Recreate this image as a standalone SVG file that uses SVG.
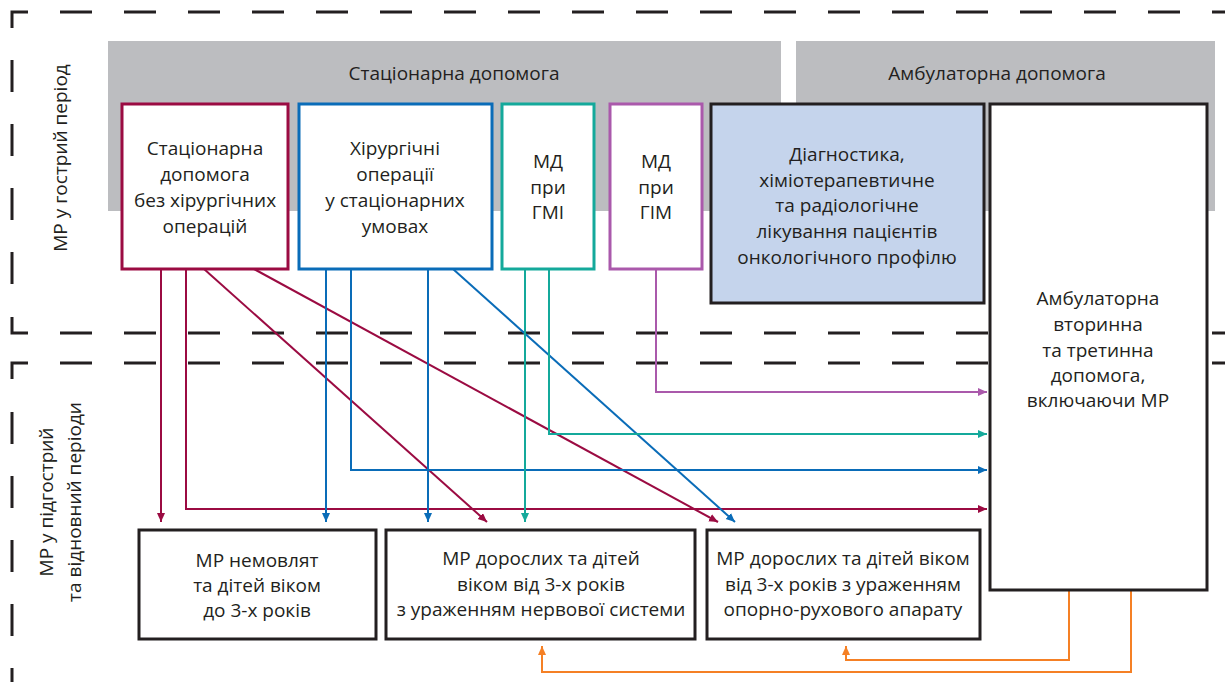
<svg xmlns="http://www.w3.org/2000/svg" width="1225" height="682" viewBox="0 0 1225 682">
<style>
text{font-family:"Open Sans","Liberation Sans",sans-serif;font-size:19px;fill:#231f20;text-anchor:middle}
.frame{fill:none;stroke:#231f20;stroke-width:3}
.dash{fill:none;stroke:#231f20;stroke-width:3;stroke-dasharray:32 32}
.band{fill:#bcbdc0}
.box{fill:#fff;stroke-width:3}
.c{fill:none;stroke-width:2}
.red{stroke:#9b0b42}.blue{stroke:#0a6cb8}.teal{stroke:#14a99b}.purple{stroke:#aa59ab}.orange{stroke:#f58025}.blk{stroke:#231f20}
</style>
<defs>
<marker id="aR" markerUnits="userSpaceOnUse" markerWidth="10" markerHeight="10" refX="9" refY="4" orient="auto"><path d="M0,0 L9,4 L0,8 z" fill="#9b0b42"/></marker>
<marker id="aB" markerUnits="userSpaceOnUse" markerWidth="10" markerHeight="10" refX="9" refY="4" orient="auto"><path d="M0,0 L9,4 L0,8 z" fill="#0a6cb8"/></marker>
<marker id="aT" markerUnits="userSpaceOnUse" markerWidth="10" markerHeight="10" refX="9" refY="4" orient="auto"><path d="M0,0 L9,4 L0,8 z" fill="#14a99b"/></marker>
<marker id="aP" markerUnits="userSpaceOnUse" markerWidth="10" markerHeight="10" refX="9" refY="4" orient="auto"><path d="M0,0 L9,4 L0,8 z" fill="#aa59ab"/></marker>
<marker id="aO" markerUnits="userSpaceOnUse" markerWidth="10" markerHeight="10" refX="9" refY="4" orient="auto"><path d="M0,0 L9,4 L0,8 z" fill="#f58025"/></marker>
</defs>
<rect width="1225" height="682" fill="#fff"/>

<g id="frames">
<path class="frame" d="M12,28 V12 H28"/>
<path class="dash" d="M60,12 H1225"/>
<path class="dash" d="M12,60 V300"/>
<path class="frame" d="M12,317 V333 H28"/>
<path class="dash" d="M60,333 H1225"/>
<path class="frame" d="M12,379 V363 H28"/>
<path class="dash" d="M60,363 H1225"/>
<path class="dash" d="M12,412 V700"/>
<text transform="translate(67,158) rotate(-90)">МР у гострий період</text>
<text transform="translate(53,502) rotate(-90)">МР у підгострий</text>
<text transform="translate(81,502) rotate(-90)">та відновний періоди</text>
</g>

<g id="bands">
<rect class="band" x="108" y="41" width="673" height="170"/>
<text x="454" y="80">Стаціонарна допомога</text>
<rect class="band" x="796" y="41" width="419" height="170"/>
<text x="997" y="80">Амбулаторна допомога</text>
</g>

<g id="connectors">
<path class="c red" d="M161,269 V522" marker-end="url(#aR)"/>
<path class="c red" d="M186,269 V509 H987" marker-end="url(#aR)"/>
<path class="c red" d="M204,269 L487,522" marker-end="url(#aR)"/>
<path class="c red" d="M254,269 L718,522" marker-end="url(#aR)"/>
<path class="c blue" d="M326,269 V522" marker-end="url(#aB)"/>
<path class="c blue" d="M351,269 V470 H987" marker-end="url(#aB)"/>
<path class="c blue" d="M428,269 V522" marker-end="url(#aB)"/>
<path class="c blue" d="M453,269 L735,522" marker-end="url(#aB)"/>
<path class="c teal" d="M525,269 V522" marker-end="url(#aT)"/>
<path class="c teal" d="M549,269 V434 H987" marker-end="url(#aT)"/>
<path class="c purple" d="M656,269 V392 H987" marker-end="url(#aP)"/>
<path class="c orange" d="M1069,590 V660 H846 V646" marker-end="url(#aO)"/>
<path class="c orange" d="M1131,590 V672 H542 V646" marker-end="url(#aO)"/>
</g>

<g id="n1">
<rect class="box red" x="122" y="104" width="166" height="165"/>
<text x="205" y="155">Стаціонарна</text>
<text x="205" y="181">допомога</text>
<text x="205" y="207">без хірургічних</text>
<text x="205" y="233">операцій</text>
</g>
<g id="n2">
<rect class="box blue" x="299" y="104" width="193" height="165"/>
<text x="395" y="155">Хірургічні</text>
<text x="395" y="181">операції</text>
<text x="395" y="207">у стаціонарних</text>
<text x="395" y="233">умовах</text>
</g>
<g id="n3">
<rect class="box teal" x="502" y="104" width="92" height="165"/>
<text x="548" y="168">МД</text>
<text x="548" y="194">при</text>
<text x="548" y="219">ГМІ</text>
</g>
<g id="n4">
<rect class="box purple" x="610" y="104" width="92" height="165"/>
<text x="656" y="168">МД</text>
<text x="656" y="194">при</text>
<text x="656" y="219">ГІМ</text>
</g>
<g id="n5">
<rect class="box blk" x="711" y="104" width="273" height="199" style="fill:#c5d4ec"/>
<text x="847" y="161">Діагностика,</text>
<text x="847" y="187">хіміотерапевтичне</text>
<text x="847" y="212">та радіологічне</text>
<text x="847" y="238">лікування пацієнтів</text>
<text x="847" y="264">онкологічного профілю</text>
</g>
<g id="n6">
<rect class="box blk" x="990" y="104" width="217" height="486"/>
<text x="1098" y="305">Амбулаторна</text>
<text x="1098" y="331">вторинна</text>
<text x="1098" y="357">та третинна</text>
<text x="1098" y="382">допомога,</text>
<text x="1098" y="407">включаючи МР</text>
</g>
<g id="n7">
<rect class="box blk" x="139" y="530" width="237" height="109"/>
<text x="257" y="567">МР немовлят</text>
<text x="257" y="592">та дітей віком</text>
<text x="257" y="617">до 3-х років</text>
</g>
<g id="n8">
<rect class="box blk" x="386" y="530" width="309" height="109"/>
<text x="541" y="565">МР дорослих та дітей</text>
<text x="541" y="591">віком від 3-х років</text>
<text x="541" y="616">з ураженням нервової системи</text>
</g>
<g id="n9">
<rect class="box blk" x="707" y="530" width="273" height="109"/>
<text x="843" y="565">МР дорослих та дітей віком</text>
<text x="843" y="591">від 3-х років з ураженням</text>
<text x="843" y="616">опорно-рухового апарату</text>
</g>
</svg>
